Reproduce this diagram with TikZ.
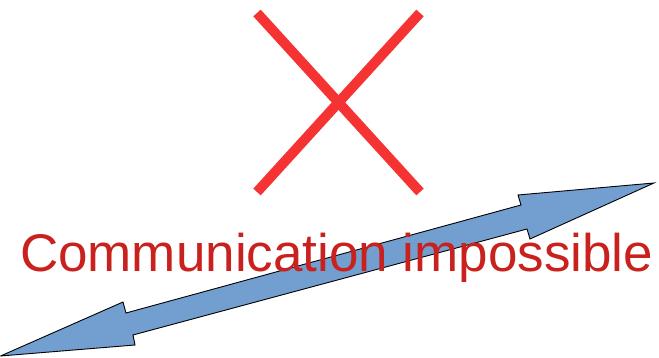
\documentclass[tikz,border=0pt]{standalone}
\usepackage{fontspec}
\setmainfont{Liberation Sans}
\definecolor{xred}{RGB}{245,51,51}
\definecolor{txtred}{RGB}{201,33,30}
\definecolor{arrblue}{RGB}{114,159,207}
\begin{document}
\begin{tikzpicture}[x=1pt,y=1pt,
  crossline/.style={draw=xred,line width=10pt},
  dblarrow/.style={fill=arrblue,draw=black,line width=0.9pt,line join=miter},
  label/.style={text=txtred,font=\fontsize{53}{60}\selectfont,inner sep=0pt}]
\useasboundingbox (0,0) rectangle (659,358);
\draw[crossline] (257,345) -- (420,166);
\draw[crossline] (420,345) -- (257,166);
\path[dblarrow] (0.5,2) -- (123,56) -- (126,45) -- (521,153) -- (518,163) -- (654,175)
  -- (530,119) -- (527,129) -- (133,23) -- (135,13) -- cycle;
\node[label,anchor=base] (msg) at (336.7,86) {Communication impossible};
\end{tikzpicture}
\end{document}
